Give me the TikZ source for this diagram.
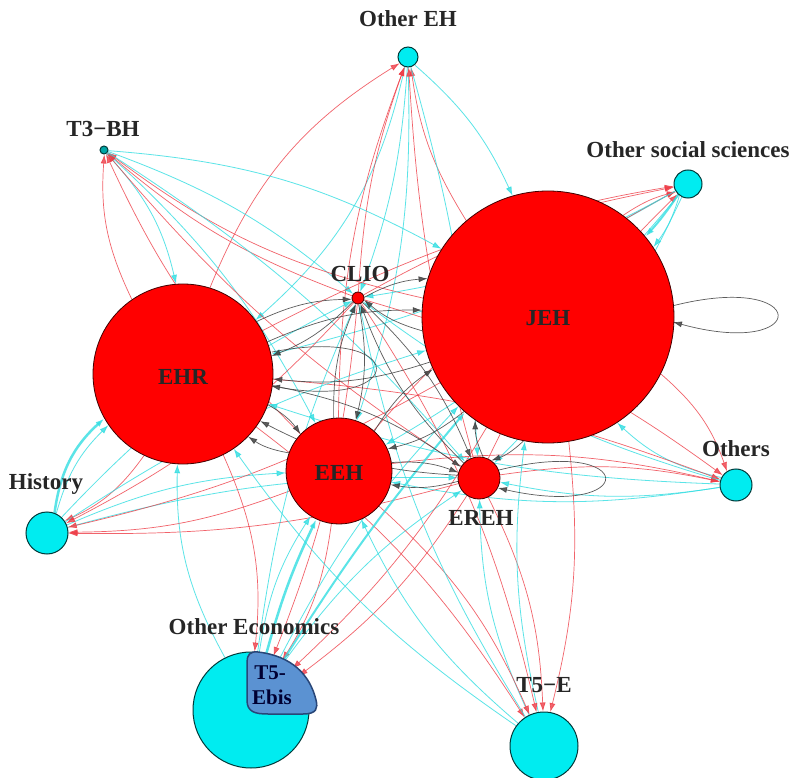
\documentclass[tikz,border=0pt]{standalone}
\usepackage{fontspec}
\setmainfont{Liberation Serif}
\usetikzlibrary{arrows.meta,backgrounds}
\definecolor{nred}{RGB}{255,0,0}
\definecolor{ncy}{RGB}{0,236,240}
\definecolor{ered}{RGB}{238,60,70}
\definecolor{ecy}{RGB}{50,222,226}
\definecolor{ebis}{RGB}{91,146,210}
\definecolor{ebisd}{RGB}{40,70,120}
\tikzset{
 rednode/.style={circle,fill=nred,draw=black!75!red,line width=0.8pt,inner sep=0pt,minimum size=#1},
 cynode/.style={circle,fill=ncy,draw=black!55!teal,line width=1pt,inner sep=0pt,minimum size=#1},
 lab/.style={font=\fontsize{23}{26}\selectfont\bfseries,text=black!85,inner sep=0pt},
 rd/.style={draw=ered,line width=0.7pt,opacity=0.8,-{Latex[length=9pt,width=6pt]}},
 cy/.style={draw=ecy,line width=0.8pt,opacity=0.8,-{Latex[length=9pt,width=6pt]}},
 bk/.style={draw=black!75,line width=0.7pt,opacity=0.85,-{Latex[length=9pt,width=6pt]}},
}
\begin{document}
\begin{tikzpicture}[x=1pt,y=-1pt]
\useasboundingbox (0,0) rectangle (796,778);
% nodes
\node[cynode=20pt] (oeh) at (408,57) {};
\node[cynode=8pt,fill=teal!70!cyan] (t3) at (104,150) {};
\node[cynode=28pt] (oss) at (688,184) {};
\node[rednode=12pt] (clio) at (358,298) {};
\node[rednode=252pt] (jeh) at (548,317) {};
\node[rednode=180pt] (ehr) at (183,374) {};
\node[rednode=106pt] (eeh) at (339,471) {};
\node[rednode=42pt] (ereh) at (479,478) {};
\node[cynode=32pt] (oth) at (736,485) {};
\node[cynode=42pt] (hist) at (47,533) {};
\node[cynode=116pt] (oec) at (251,710) {};
\node[cynode=68pt] (t5e) at (544,746) {};
% T5-Ebis overlay
\draw[fill=ebis,draw=ebisd,line width=1.5pt] (247,662) -- (247,700) .. controls (247,712) and (255,714) .. (268,714) -- (303,714) .. controls (317,714) and (318,708) .. (316,700) .. controls (310,675) and (292,656) .. (258,652) .. controls (250,651) and (247,655) .. (247,662) -- cycle;
\node[lab,font=\fontsize{21}{24}\selectfont\bfseries,text=black!80!blue] (ebt1) at (270,673) {T5-};
\node[lab,font=\fontsize{21}{24}\selectfont\bfseries,text=black!80!blue] (ebt2) at (272,697) {Ebis};
% labels
\node[lab] (l-oeh) at (408,19) {Other EH};
\node[lab] (l-t3) at (103,129) {T3−BH};
\node[lab] (l-oss) at (688,150) {Other social sciences};
\node[lab] (l-clio) at (360,274) {CLIO};
\node[lab] (l-jeh) at (548,318) {JEH};
\node[lab] (l-ehr) at (183,377) {EHR};
\node[lab] (l-eeh) at (339,473) {EEH};
\node[lab] (l-ereh) at (481,518) {EREH};
\node[lab] (l-oth) at (736,449) {Others};
\node[lab] (l-hist) at (46,484) {History};
\node[lab] (l-oec) at (254,627) {Other Economics};
\node[lab] (l-t5e) at (544,685) {T5−E};
% loop coordinates
\coordinate (jl1) at (672,306);
\coordinate (jl2) at (673,322);
\coordinate (el1) at (272,352);
\coordinate (el2) at (271,386);
\coordinate (rl1) at (499,470);
\coordinate (rl2) at (498,488);
\begin{scope}[on background layer]
\fill[white] (0,0) rectangle (796,778);
\foreach \s/\t/\b in {ehr/oeh/18, clio/oeh/8, jeh/oeh/12, eeh/oeh/10, ereh/oeh/6,
  ehr/t3/15, clio/t3/10, jeh/t3/12, eeh/t3/10, ereh/t3/8,
  jeh/oss/10, ehr/oss/8, eeh/oss/10, clio/oss/10, ereh/oss/10,
  jeh/oth/15, ereh/oth/10, eeh/oth/10, ehr/oth/8, clio/oth/10,
  ehr/hist/15, eeh/hist/10, ereh/hist/8, jeh/hist/8, clio/hist/10,
  ehr/oec/15, eeh/oec/12, ereh/oec/10, jeh/oec/8, clio/oec/8,
  ereh/t5e/12, jeh/t5e/10, eeh/t5e/12, ehr/t5e/10, clio/t5e/10}
 {\draw[rd] (\s) to[bend left=\b] (\t);
  \draw[cy] (\t) to[bend left=\b] (\s);}
\draw[cy,line width=2.5pt] (hist) to[bend left=20] (ehr);
\draw[cy,line width=2.5pt] (oec) to[bend left=5] (eeh);
\draw[cy,line width=2pt] (oec) to[bend left=4] (jeh);
\draw[cy,line width=2pt] (oss) to[bend left=4] (jeh);
\foreach \s/\t in {ehr/eeh, ehr/clio, ehr/jeh, ehr/ereh, eeh/clio, eeh/jeh, eeh/ereh, clio/jeh, clio/ereh, jeh/ereh}
 {\draw[bk] (\s) to[bend left=12] (\t);
  \draw[bk] (\t) to[bend left=12] (\s);}
\draw[bk] (jl1) .. controls (812,270) and (812,360) .. (jl2);
\draw[bk] (el1) .. controls (410,325) and (410,410) .. (el2);
\draw[bk] (rl1) .. controls (640,435) and (640,520) .. (rl2);
\end{scope}
\end{tikzpicture}
\end{document}
